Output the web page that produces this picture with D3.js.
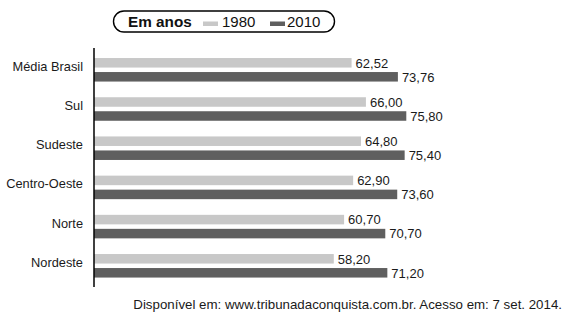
<!DOCTYPE html>
<html>
<head>
<meta charset="utf-8">
<script src="https://cdn.jsdelivr.net/npm/d3@7"></script>
<style>
  html, body { margin: 0; padding: 0; background: #fff; }
  svg { display: block; font-family: "Liberation Sans", Arial, sans-serif; }
</style>
</head>
<body>
<script>
const categories = ["Média Brasil", "Sul", "Sudeste", "Centro-Oeste", "Norte", "Nordeste"];
const seriesNames = ["1980", "2010"];
const values1980 = [62.52, 66.00, 64.80, 62.90, 60.70, 58.20];
const values2010 = [73.76, 75.80, 75.40, 73.60, 70.70, 71.20];
const legendTitle = "Em anos";
const sourceText = "Disponível em: www.tribunadaconquista.com.br. Acesso em: 7 set. 2014.";

const colors = { "1980": "#c8c8c8", "2010": "#5f5f5f" };
const W = 567, H = 323;
const fmt = v => v.toFixed(2).replace(".", ",");

const svg = d3.select("body").append("svg").attr("width", W).attr("height", H);

const x = d3.scaleLinear().domain([0, 100]).range([94, 506]);
const y = d3.scaleBand().domain(categories).range([50.2, 285.4]).paddingInner(0.4).paddingOuter(0.2);
const ys = d3.scaleBand().domain(seriesNames).range([0, y.bandwidth()]).paddingInner(0.32);

const data = categories.map((c, i) => ({ cat: c, vals: [
  { s: "1980", v: values1980[i] }, { s: "2010", v: values2010[i] } ] }));

const g = svg.selectAll("g.grp").data(data).join("g")
  .attr("class", "grp")
  .attr("transform", d => `translate(0,${y(d.cat)})`);

g.selectAll("rect").data(d => d.vals).join("rect")
  .attr("x", x(0))
  .attr("y", d => ys(d.s))
  .attr("width", d => x(d.v) - x(0))
  .attr("height", ys.bandwidth())
  .attr("fill", d => colors[d.s]);

g.selectAll("text.val").data(d => d.vals).join("text")
  .attr("class", "val")
  .attr("x", d => x(d.v) + 4)
  .attr("y", d => ys(d.s) + ys.bandwidth())
  .attr("font-size", 13)
  .attr("fill", "#1a1a1a")
  .text(d => fmt(d.v));

g.append("text")
  .attr("x", 83)
  .attr("y", y.bandwidth() / 2 + 1)
  .attr("text-anchor", "end")
  .attr("font-size", 12.8)
  .attr("fill", "#1a1a1a")
  .text(d => d.cat);

// vertical axis
svg.append("line")
  .attr("x1", x(0)).attr("x2", x(0))
  .attr("y1", 48).attr("y2", 287)
  .attr("stroke", "#000").attr("stroke-width", 1.5);

// legend
const lg = svg.append("g");
lg.append("rect").attr("x", 113.5).attr("y", 11).attr("width", 221).attr("height", 21)
  .attr("rx", 10.5).attr("fill", "#fff").attr("stroke", "#000").attr("stroke-width", 1.4);
lg.append("text").attr("x", 128).attr("y", 26.5).attr("font-size", 15.3).attr("font-weight", "bold")
  .attr("fill", "#111").text(legendTitle);
const legItems = [{ s: "1980", sx: 203, tx: 222 }, { s: "2010", sx: 270, tx: 287 }];
lg.selectAll("rect.sw").data(legItems).join("rect").attr("class", "sw")
  .attr("x", d => d.sx).attr("y", 21.5).attr("width", 15).attr("height", 4.5)
  .attr("fill", d => colors[d.s]);
lg.selectAll("text.lt").data(legItems).join("text").attr("class", "lt")
  .attr("x", d => d.tx).attr("y", 26.5).attr("font-size", 15).attr("fill", "#111")
  .text(d => d.s);

// source
svg.append("text").attr("x", 562).attr("y", 309).attr("text-anchor", "end")
  .attr("font-size", 13.3).attr("fill", "#1a1a1a").text(sourceText);
</script>
</body>
</html>
